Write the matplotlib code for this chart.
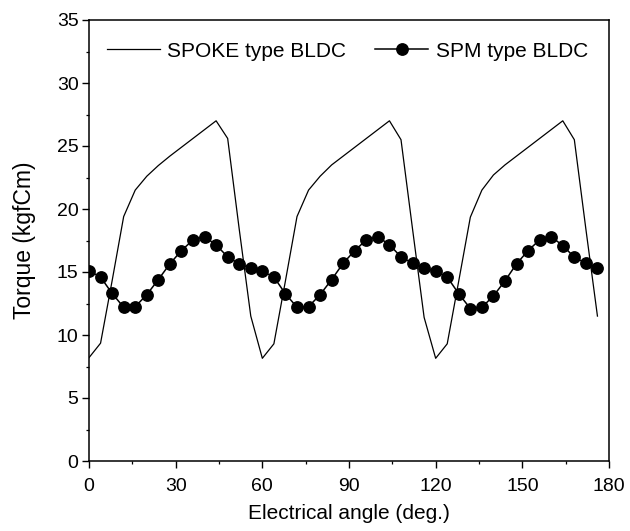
import matplotlib
matplotlib.use("Agg")
import matplotlib.pyplot as plt
import numpy as np

plt.rcParams['font.family'] = ['Liberation Sans', 'DejaVu Sans']

angle = list(range(0, 180, 4))

spoke_torque = [
    8.2, 9.35, 14.3, 19.4, 21.5, 22.6, 23.45, 24.2, 24.9, 25.6, 26.3, 27.0, 25.6, 18.4, 11.5,
    8.15, 9.3, 14.3, 19.4, 21.5, 22.6, 23.5, 24.2, 24.9, 25.6, 26.3, 27.0, 25.5, 18.4, 11.4,
    8.15, 9.3, 14.3, 19.35, 21.5, 22.7, 23.5, 24.2, 24.9, 25.6, 26.3, 27.0, 25.5, 18.4, 11.5,
]

spm_torque = [
    15.1, 14.6, 13.3, 12.2, 12.25, 13.2, 14.4, 15.65, 16.7, 17.55, 17.8, 17.15, 16.2, 15.65, 15.3,
    15.06, 14.6, 13.27, 12.2, 12.25, 13.2, 14.4, 15.7, 16.7, 17.55, 17.8, 17.16, 16.2, 15.7, 15.3,
    15.06, 14.6, 13.27, 12.1, 12.2, 13.1, 14.3, 15.65, 16.7, 17.55, 17.8, 17.1, 16.17, 15.7, 15.3,
]

series_labels = ["SPOKE type BLDC", "SPM type BLDC"]
x_ticks = [0, 30, 60, 90, 120, 150, 180]
y_ticks = [0, 5, 10, 15, 20, 25, 30, 35]

fig = plt.figure(figsize=(6.3, 5.31), dpi=100)
ax = fig.add_axes([89/630, 1-461/531, 520/630, 441/531])

ax.plot(angle, spoke_torque, color='black', lw=0.9, label=series_labels[0])
ax.plot(angle, spm_torque, color='black', lw=1.1, marker='o', markersize=8.2,
        label=series_labels[1])

ax.set_xlim(0, 180)
ax.set_ylim(0, 35)
ax.set_xticks(x_ticks)
ax.set_yticks(y_ticks)
ax.set_xticks(np.arange(15, 180, 30), minor=True)
ax.set_yticks(np.arange(2.5, 35, 5), minor=True)
ax.tick_params(which='major', direction='out', length=5, width=1.0, labelsize=14,
               top=False, right=False)
ax.tick_params(axis='x', which='major', pad=7)
ax.tick_params(axis='y', which='major', pad=2.5)
ax.tick_params(which='minor', direction='out', length=2.5, width=0.9, top=False, right=False)
for s in ax.spines.values():
    s.set_linewidth(1.1)

ax.set_xlabel("Electrical angle (deg.)", fontsize=15, labelpad=7)
ax.set_ylabel("Torque (kgfCm)", fontsize=16.5, labelpad=15)

leg = ax.legend(loc='center left', bbox_to_anchor=(0.034, 0.9296), ncol=2, frameon=False,
                fontsize=15, handlelength=2.55, handletextpad=0.35, columnspacing=1.4,
                borderpad=0, borderaxespad=0)

fig.savefig("out.png", dpi=100)
